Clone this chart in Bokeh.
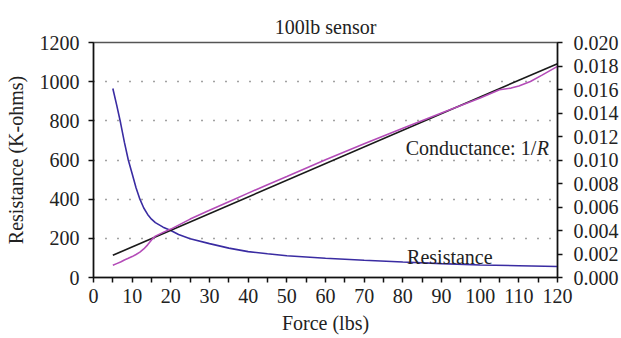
from bokeh.plotting import figure
from bokeh.models import (Range1d, LinearAxis, FixedTicker, NumeralTickFormatter,
                          Label)
from bokeh.embed import file_html
from bokeh.resources import INLINE

# Sensor resistance (K-ohms) against applied force (lbs)
force_r = [5, 6, 7, 8, 9, 10, 11, 12, 13, 14, 15, 16, 18, 20, 22, 25, 30, 35,
           40, 45, 50, 60, 70, 80, 90, 100, 110, 120]
resistance = [965, 880, 790, 690, 600, 530, 458, 400, 355, 322, 298, 280, 257,
              240, 220, 198, 173, 150, 132, 121, 111, 98, 88, 79, 71, 64, 60, 56]

# Measured conductance (1/K-ohms)
force_g = [5, 6, 7, 8, 9, 10, 11, 12, 13, 14, 15, 16, 18, 20, 25, 30, 35, 40,
           45, 50, 60, 70, 80, 90, 100, 105, 108, 110, 113, 116, 120]
conductance = [0.00104, 0.00118, 0.00132, 0.00149, 0.00163, 0.00178, 0.00196,
               0.00216, 0.00243, 0.00278, 0.00320, 0.00352, 0.00384, 0.00412,
               0.00497, 0.00572, 0.00645, 0.00718, 0.00790, 0.00860, 0.01003,
               0.01138, 0.01270, 0.01400, 0.01528, 0.01598, 0.01612, 0.01630,
               0.01668, 0.01722, 0.01797]

# Linear fit of the conductance
fit_force = [5, 120]
fit_conductance = [0.00189, 0.01820]

x_ticks = list(range(0, 121, 10))
x_minor = list(range(5, 120, 10))
r_ticks = [0, 200, 400, 600, 800, 1000, 1200]
g_ticks = [0.000, 0.002, 0.004, 0.006, 0.008, 0.010, 0.012, 0.014, 0.016,
           0.018, 0.020]
grid_ticks = [200, 400, 600, 800, 1000]

FONT = "Liberation Serif"
FS = "20px"

p = figure(width=621, height=338, x_range=Range1d(0, 120), y_range=Range1d(0, 1200),
           output_backend="svg", toolbar_location=None,
           min_border_left=93, min_border_right=64, min_border_top=42,
           min_border_bottom=61)
p.extra_y_ranges = {"g": Range1d(0, 0.020)}

p.title.text = "100lb sensor"
p.title.align = "center"
p.title.text_font = FONT
p.title.text_font_size = FS
p.title.text_font_style = "normal"
p.title.text_color = "#222222"

p.background_fill_color = "white"
p.border_fill_color = "white"
p.outline_line_color = "#555555"
p.outline_line_width = 1.5

# grid
p.xgrid.visible = False
p.ygrid.ticker = FixedTicker(ticks=grid_ticks)
p.ygrid.grid_line_color = "#444444"
p.ygrid.grid_line_dash = "1 11"
p.ygrid.grid_line_width = 1.5


def style_axis(ax):
    ax.axis_line_color = "#111111"
    ax.axis_line_width = 1.5
    ax.major_tick_line_color = "#111111"
    ax.major_tick_line_width = 1.5
    ax.major_tick_in = 0
    ax.major_tick_out = 5
    ax.minor_tick_line_color = None
    ax.major_label_text_font = FONT
    ax.major_label_text_font_size = FS
    ax.major_label_text_color = "#222222"
    ax.axis_label_text_font = FONT
    ax.axis_label_text_font_size = FS
    ax.axis_label_text_font_style = "normal"
    ax.axis_label_text_color = "#222222"


# bottom axis
xa = p.xaxis[0]
style_axis(xa)
xa.ticker = FixedTicker(ticks=x_ticks, minor_ticks=x_minor)
xa.minor_tick_line_color = "#111111"
xa.minor_tick_line_width = 1.5
xa.minor_tick_in = 0
xa.minor_tick_out = 5
xa.axis_label = "Force (lbs)"
xa.major_label_standoff = 6
xa.axis_label_standoff = 6

# left axis
ya = p.yaxis[0]
style_axis(ya)
ya.ticker = FixedTicker(ticks=r_ticks)
ya.axis_label = "Resistance (K-ohms)"
ya.major_label_standoff = 9
ya.axis_label_standoff = 10

# right axis (conductance)
ra = LinearAxis(y_range_name="g")
style_axis(ra)
ra.ticker = FixedTicker(ticks=g_ticks)
ra.formatter = NumeralTickFormatter(format="0.000")
ra.major_label_standoff = 11
p.add_layout(ra, "right")

# curves
p.line(force_r, resistance, line_color="#3a2ca2", line_width=1.6)
p.line(fit_force, fit_conductance, y_range_name="g", line_color="#1a1a1a",
       line_width=1.6)
p.line(force_g, conductance, y_range_name="g", line_color="#b44cb8",
       line_width=1.6)

# annotations
p.add_layout(Label(x=81.1, y=106, text="Resistance", text_font=FONT,
                   text_font_size=FS, text_color="#222222",
                   text_baseline="alphabetic"))
p.add_layout(Label(x=114.5, y=659, text="Conductance: 1/", text_font=FONT,
                   text_font_size=FS, text_color="#222222", text_align="right",
                   text_baseline="alphabetic"))
p.add_layout(Label(x=117.8, y=659, text="R", text_font=FONT,
                   text_font_size=FS, text_font_style="italic",
                   text_color="#222222", text_align="right",
                   text_baseline="alphabetic"))

open("out.html", "w").write(file_html(p, INLINE))
